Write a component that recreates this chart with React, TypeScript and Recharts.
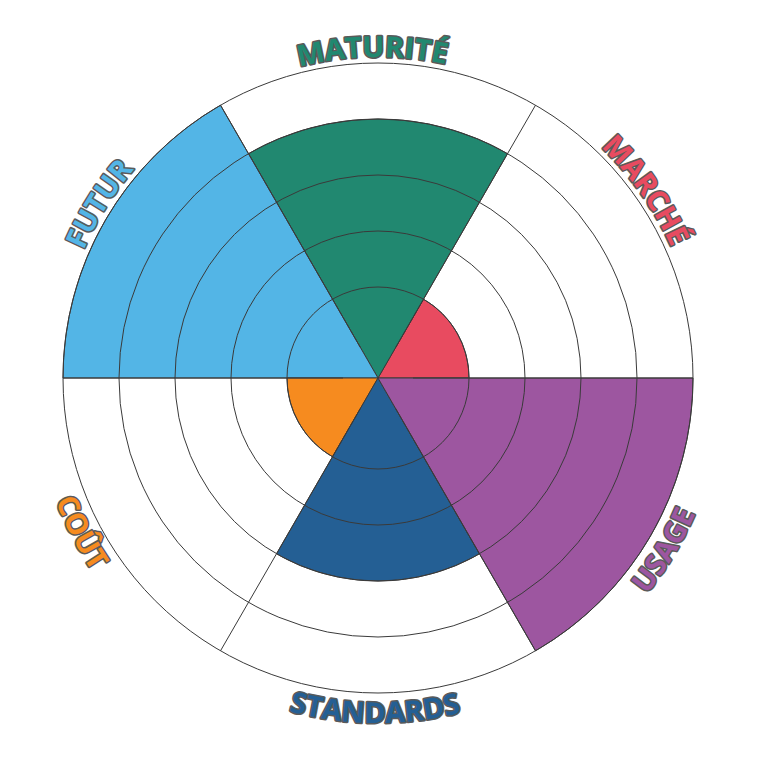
import { RadialBarChart, RadialBar, PolarAngleAxis, PolarRadiusAxis, PolarGrid, Cell, Sector } from "recharts"

const categories = ["MARCHÉ", "MATURITÉ", "FUTUR", "COÛT", "STANDARDS", "USAGE"]
const scores = [1, 4, 5, 1, 3, 5]
const colors = ["#e84b60", "#218870", "#53b5e6", "#f68b1f", "#245f94", "#9d56a0"]
const ringTicks = [1, 2, 3, 4, 5]
const radiusDomain = [0, 5]

const SIZE = 740
const OUTER = 315
// value 0 sits away from the centre, so the first ring is wider than the rest
const INNER = 35
// small angular shifts so the curved labels sit where the original put them
const labelNudge = [5, 1, -2, -2.5, -0.5, -1]

const data = categories.map((name, i) => ({ name, score: scores[i] }))
const boundaries = categories.map((_, i) => (i * 360) / categories.length)
const step = 360 / categories.length

const RAD = Math.PI / 180

function CurvedLabel(props: any) {
  const { index, payload } = props
  const cx = props.cx ?? SIZE / 2
  const cy = props.cy ?? SIZE / 2
  const base = (index + 0.5) * step
  const top = base > 0 && base < 180
  const mid = base + labelNudge[index]
  const r = top ? OUTER + 6 : OUTER + 30
  const a0 = top ? mid + 60 : mid - 60
  const a1 = top ? mid - 60 : mid + 60
  const pt = (a: number) => [cx + r * Math.cos(a * RAD), cy - r * Math.sin(a * RAD)]
  const [x0, y0] = pt(a0)
  const [x1, y1] = pt(a1)
  const id = `label-arc-${index}`
  return (
    <g>
      <path id={id} d={`M${x0},${y0} A${r},${r} 0 0 ${top ? 1 : 0} ${x1},${y1}`} fill="none" stroke="none" />
      <text
        fontFamily="'Open Sans', sans-serif"
        fontSize={29}
        fontWeight={700}
        fill={colors[index]}
        stroke="#5a5a5a"
        strokeWidth={3}
        strokeLinejoin="round"
        paintOrder="stroke"
      >
        <textPath href={`#${id}`} startOffset="50%" textAnchor="middle">
          {payload.value}
        </textPath>
      </text>
    </g>
  )
}

// sectors run all the way to the centre
const FullSector = (props: any) => <Sector {...props} innerRadius={0} />

export default function App() {
  return (
    <RadialBarChart
      width={SIZE}
      height={SIZE}
      data={data}
      layout="centric"
      startAngle={step}
      endAngle={360 + step}
      innerRadius={INNER}
      outerRadius={OUTER}
      barCategoryGap={0}
      barGap={0}
      margin={{ top: 0, right: 0, bottom: 0, left: 0 }}
    >
      <PolarAngleAxis type="category" dataKey="name" tick={CurvedLabel} tickLine={false} axisLine={false} />
      <PolarRadiusAxis type="number" domain={radiusDomain} ticks={ringTicks} tick={false} axisLine={false} />
      <RadialBar
        dataKey="score"
        isAnimationActive={false}
        stroke="#3a3a3a"
        strokeWidth={1}
        shape={FullSector}
      >
        {data.map((d, i) => (
          <Cell key={d.name} fill={colors[i]} />
        ))}
      </RadialBar>
      <PolarGrid gridType="circle" polarAngles={boundaries} stroke="#3a3a3a" strokeWidth={1} zIndex={1000} />
    </RadialBarChart>
  )
}
